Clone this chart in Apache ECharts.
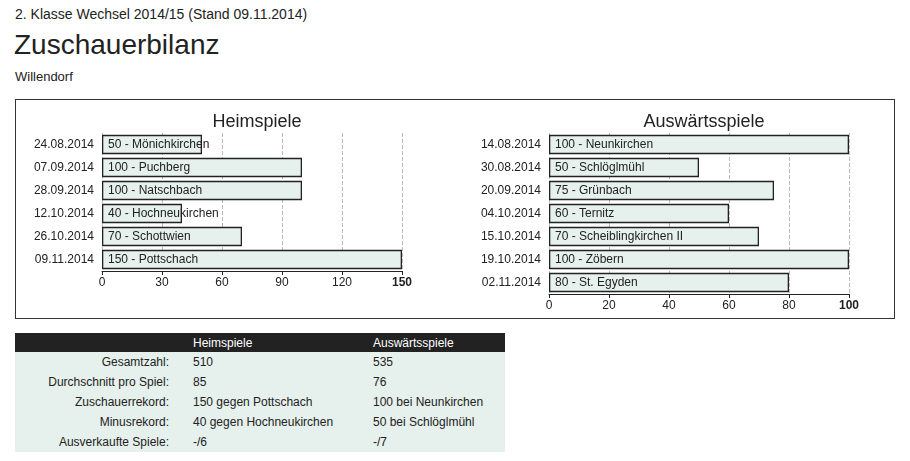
<html>
<head>
<meta charset="utf-8">
<script src="https://cdn.jsdelivr.net/npm/echarts@6/dist/echarts.min.js"></script>
<style>
body{margin:0;font-family:Arial,"Liberation Sans",sans-serif;color:#222;}
#sub{position:absolute;left:15px;top:6px;font-size:14px;}
#title{position:absolute;left:14px;top:29px;font-size:28px;}
#team{position:absolute;left:15px;top:69px;font-size:13px;}
#main{position:absolute;left:15px;top:99px;width:878px;height:218px;border:1px solid #333;}
table{position:absolute;left:15px;top:333px;width:490px;border-collapse:collapse;font-size:12px;background:#e6f0ec;}
th{background:#222;color:#fff;font-weight:normal;text-align:left;height:19px;padding:0 0 0 4px;}
td{height:20px;padding:0 0 0 4px;}
td.l{text-align:right;padding-right:20px;width:150px;}
td.h{width:176px;}
</style>
</head>
<body>
<div id="sub">2. Klasse Wechsel 2014/15 (Stand 09.11.2014)</div>
<div id="title">Zuschauerbilanz</div>
<div id="team">Willendorf</div>
<div id="main"></div>
<table>
<tr><th></th><th>Heimspiele</th><th>Auswärtsspiele</th></tr>
<tr><td class="l">Gesamtzahl:</td><td class="h">510</td><td>535</td></tr>
<tr><td class="l">Durchschnitt pro Spiel:</td><td class="h">85</td><td>76</td></tr>
<tr><td class="l">Zuschauerrekord:</td><td class="h">150 gegen Pottschach</td><td>100 bei Neunkirchen</td></tr>
<tr><td class="l">Minusrekord:</td><td class="h">40 gegen Hochneukirchen</td><td>50 bei Schlöglmühl</td></tr>
<tr><td class="l">Ausverkaufte Spiele:</td><td class="h">-/6</td><td>-/7</td></tr>
</table>
<script type="text/javascript">
var homeDates = ['24.08.2014','07.09.2014','28.09.2014','12.10.2014','26.10.2014','09.11.2014'];
var homeTeams = ['Mönichkirchen','Puchberg','Natschbach','Hochneukirchen','Schottwien','Pottschach'];
var homeValues = [50,100,100,40,70,150];
var awayDates = ['14.08.2014','30.08.2014','20.09.2014','04.10.2014','15.10.2014','19.10.2014','02.11.2014'];
var awayTeams = ['Neunkirchen','Schlöglmühl','Grünbach','Ternitz','Scheiblingkirchen II','Zöbern','St. Egyden'];
var awayValues = [100,50,75,60,70,100,80];

var myChart = echarts.init(document.getElementById('main'));

function xAxis(idx, max, interval) {
    return {
        gridIndex: idx, type: 'value', min: 0, max: max, interval: interval,
        axisLine: {show: true, lineStyle: {color: '#222'}},
        axisTick: {show: true, length: 4, lineStyle: {color: '#222'}},
        splitLine: {show: true, lineStyle: {type: 'dashed', color: '#bbb'}},
        axisLabel: {
            color: '#222', fontSize: 12, margin: 6,
            formatter: function (v) { return v === max ? '{b|' + v + '}' : '' + v; },
            rich: {b: {fontWeight: 'bold', fontSize: 12, color: '#222'}}
        }
    };
}
function yAxis(idx, dates) {
    return {
        gridIndex: idx, type: 'category', data: dates, inverse: true,
        axisLine: {show: false}, axisTick: {show: false},
        axisLabel: {color: '#222', fontSize: 12, margin: 8}
    };
}
function series(idx, values, teams) {
    return {
        type: 'bar', xAxisIndex: idx, yAxisIndex: idx, data: values,
        barCategoryGap: '16%', z: 3,
        itemStyle: {color: '#e6f0ec', borderColor: '#222', borderWidth: 1.3},
        label: {
            show: true, position: 'insideLeft', distance: 6, color: '#222', fontSize: 12,
            formatter: function (p) { return p.value + ' - ' + teams[p.dataIndex]; }
        }
    };
}

var option = {
    animation: false,
    textStyle: {fontFamily: 'Arial, "Liberation Sans", sans-serif'},
    title: [
        {text: 'Heimspiele', left: 236, top: 8, textAlign: 'center', textStyle: {fontSize: 18, fontWeight: 'normal', color: '#222'}},
        {text: 'Auswärtsspiele', left: 683, top: 8, textAlign: 'center', textStyle: {fontSize: 18, fontWeight: 'normal', color: '#222'}}
    ],
    grid: [
        {left: 86, width: 300, top: 33, height: 138},
        {left: 533, width: 300, top: 33, height: 161}
    ],
    xAxis: [xAxis(0, 150, 30), xAxis(1, 100, 20)],
    yAxis: [yAxis(0, homeDates), yAxis(1, awayDates)],
    series: [series(0, homeValues, homeTeams), series(1, awayValues, awayTeams)]
};
myChart.setOption(option);
</script>
</body>
</html>
